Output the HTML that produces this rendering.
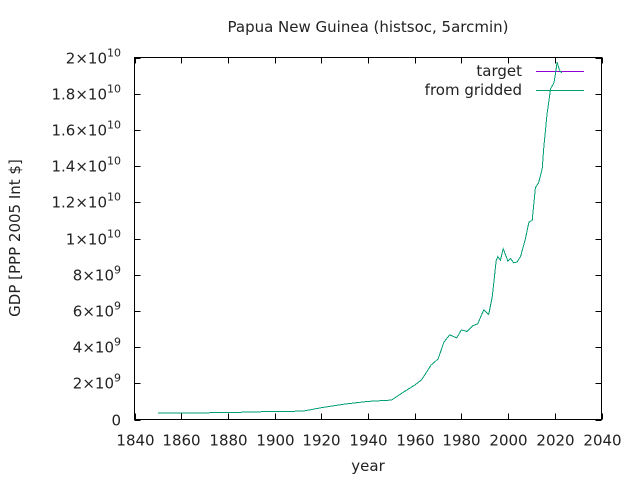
<!DOCTYPE html>
<html><head><meta charset="utf-8"><style>
body{margin:0;background:#fff}
svg text{font-family:"DejaVu Sans","Liberation Sans",sans-serif;font-size:15px;fill:#222}
</style></head><body>
<svg width="640" height="480" xmlns="http://www.w3.org/2000/svg">
<rect width="640" height="480" fill="#fff"/>
<text x="368" y="32" text-anchor="middle">Papua New Guinea (histsoc, 5arcmin)</text>
<g id="axes"></g>
<text x="368" y="471" text-anchor="middle">year</text>
<text transform="translate(20,238) rotate(-90)" text-anchor="middle">GDP [PPP 2005 Int $]</text>
<g shape-rendering="crispEdges">
<text x="522" y="76" text-anchor="end">target</text>
<line x1="536" y1="71.5" x2="584" y2="71.5" stroke="#9400d3" stroke-width="1"/>
<text x="522" y="95" text-anchor="end">from gridded</text>
<line x1="536" y1="90.5" x2="584" y2="90.5" stroke="#009e73" stroke-width="1"/>
</g>
<g id="series"></g>
</svg>
<script>
const years=[1850,1880,1900,1912,1920,1930,1940,1950,1955,1960,1963,1967,1970,1972.5,1975,1978,1980,1982.5,1985,1987,1989.6,1991.7,1993.2,1994.9,1995.6,1996.7,1997.9,1999.9,2001,2002.4,2003.8,2005.3,2007.4,2008.9,2010.3,2011.7,2013.1,2014.6,2015.3,2016.7,2018.2,2019.6,2020.3,2021,2022,2023];
const gdp=[0.35,0.38,0.45,0.46,0.65,0.85,1.0,1.07,1.5,1.9,2.2,3.0,3.35,4.27,4.68,4.51,4.95,4.86,5.19,5.29,6.06,5.8,6.76,8.78,9.0,8.8,9.43,8.75,8.9,8.66,8.7,9.0,9.98,10.9,11.0,12.8,13.1,13.85,15.04,16.9,18.27,18.6,19.1,19.74,19.3,19.15];
const xTicks=[1840,1860,1880,1900,1920,1940,1960,1980,2000,2020,2040];
const yTicks=[0,2,4,6,8,10,12,14,16,18,20];
const yLabels=["0","2×10^9","4×10^9","6×10^9","8×10^9","1×10^10","1.2×10^10","1.4×10^10","1.6×10^10","1.8×10^10","2×10^10"];
const L=134.5,R=601.5,T=57.5,B=419.5;
const xs=v=>L+(v-1840)/200*(R-L);
const ys=v=>B-v/20*(B-T);
const NS="http://www.w3.org/2000/svg";
const ax=document.getElementById('axes');
function mk(t,a,p){const e=document.createElementNS(NS,t);for(const k in a)e.setAttribute(k,a[k]);p.appendChild(e);return e;}
const fr=mk('rect',{x:L,y:T,width:R-L,height:B-T,fill:'none',stroke:'#000','stroke-width':1,'shape-rendering':'crispEdges'},ax);


xTicks.forEach(v=>{const x=Math.round(xs(v))+0.5;
mk('line',{x1:x,y1:B,x2:x,y2:B-6,stroke:'#000','shape-rendering':'crispEdges'},ax);mk('line',{x1:x,y1:T,x2:x,y2:T+6,stroke:'#000','shape-rendering':'crispEdges'},ax);
const t=mk('text',{x:x,y:B+26,'text-anchor':'middle'},ax);t.textContent=v;

});
yTicks.forEach((v,i)=>{const y=Math.round(ys(v))+0.5;
mk('line',{x1:L,y1:y,x2:L+6,y2:y,stroke:'#000','shape-rendering':'crispEdges'},ax);mk('line',{x1:R,y1:y,x2:R-6,y2:y,stroke:'#000','shape-rendering':'crispEdges'},ax);
const t=mk('text',{x:121,y:y+5,'text-anchor':'end'},ax);
const parts=yLabels[i].split('^');
if(parts.length>1){t.textContent=parts[0];const s=mk('tspan',{dy:-7,'font-size':'11'},t);s.textContent=parts[1];}else t.textContent=parts[0];

});
const sg=document.getElementById('series');
const pts=years.map((y,i)=>xs(y).toFixed(1)+','+ys(gdp[i]).toFixed(1)).join(' ');
const p1=mk('polyline',{points:pts,fill:'none',stroke:'#9400d3','stroke-width':1,'shape-rendering':'crispEdges'},sg);


const p2=mk('polyline',{points:pts,fill:'none',stroke:'#009e73','stroke-width':1,'shape-rendering':'crispEdges'},sg);


</script>
</body></html>
